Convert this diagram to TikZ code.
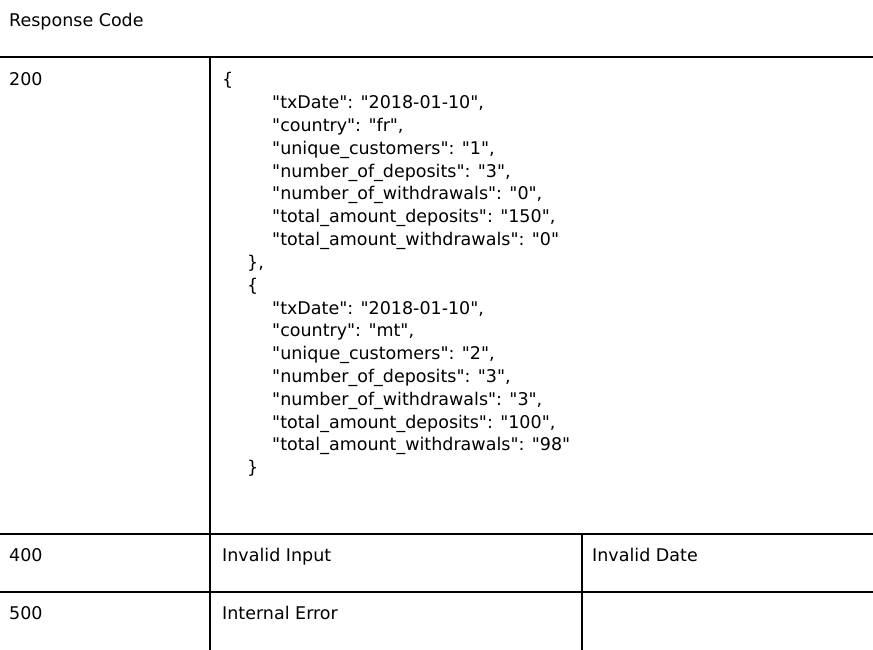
\documentclass[tikz,border=0pt]{standalone}
\usepackage{fontspec}
\setmainfont[Ligatures=TeXReset]{DejaVu Sans}
\newcommand{\qt}[1]{\symbol{34}#1\symbol{34}}
\begin{document}
\begin{tikzpicture}[x=1pt,y=-1pt,
    cell/.style={anchor=base west, inner sep=0pt, font=\fontsize{17.5}{21}\selectfont},
    rule/.style={line width=2pt}]
    \useasboundingbox (0,0) rectangle (873,650);
    % header
    \node[cell] (head) at (9,27) {Response Code};
    \draw[rule] (0,57) -- (873,57);
    % 200 row
    \node[cell] (c200) at (9,86) {200};
    \node[cell] (open1) at (222,86) {\{};
    \foreach \txt [count=\i] in {{\qt{txDate}: \qt{2018-01-10},}, {\qt{country}: \qt{fr},},
        {\qt{unique\_customers}: \qt{1},}, {\qt{number\_of\_deposits}: \qt{3},},
        {\qt{number\_of\_withdrawals}: \qt{0},}, {\qt{total\_amount\_deposits}: \qt{150},},
        {\qt{total\_amount\_withdrawals}: \qt{0}}}
        \node[cell] at (272,86+22.8*\i) {\txt};
    \node[cell] (close1) at (247,86+22.8*8) {\},};
    \node[cell] (open2) at (247,86+22.8*9) {\{};
    \foreach \txt [count=\i from 10] in {{\qt{txDate}: \qt{2018-01-10},}, {\qt{country}: \qt{mt},},
        {\qt{unique\_customers}: \qt{2},}, {\qt{number\_of\_deposits}: \qt{3},},
        {\qt{number\_of\_withdrawals}: \qt{3},}, {\qt{total\_amount\_deposits}: \qt{100},},
        {\qt{total\_amount\_withdrawals}: \qt{98}}}
        \node[cell] at (272,86+22.8*\i) {\txt};
    \node[cell] (close2) at (247,86+22.8*17) {\}};
    \draw[rule] (0,534) -- (873,534);
    % 400 and 500 rows
    \node[cell] (c400) at (9,561) {400};
    \node[cell] (in400) at (222,561) {Invalid Input};
    \node[cell] (dt400) at (592,561) {Invalid Date};
    \draw[line width=1.5pt] (0,592) -- (873,592);
    \node[cell] (c500) at (9,619) {500};
    \node[cell] (er500) at (222,619) {Internal Error};
    \draw[rule] (210,57) -- (210,650);
    \draw[rule] (582,534) -- (582,650);
\end{tikzpicture}
\end{document}
